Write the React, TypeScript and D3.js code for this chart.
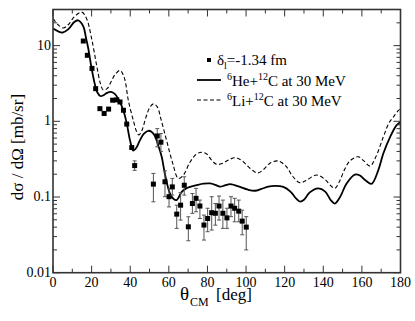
import React from 'react';
import * as d3 from 'd3';

// 6He + 12C calculation (theta in deg, dsigma/dOmega in mb/sr)
const heTheta = [0, 2.5, 5, 8, 11, 13, 15.7, 17, 18.3, 20, 21.8, 23, 24.5, 26, 28, 30, 32, 34, 36.4, 38.2, 39.9, 41.6, 43, 45, 47, 49.4, 51, 52.8, 54.5, 56.3, 58, 60.6, 62.5, 64, 66.7, 69, 71, 75, 78, 81.3, 84, 86.5, 89, 91.7, 94, 96.9, 101, 104.6, 108, 111.5, 115, 119.3, 123, 126, 128, 130, 133, 137.4, 141, 144, 146, 148.7, 152, 156.4, 159, 162, 165, 168.5, 171.1, 174.6, 178, 180];
const heXs = [16.8, 15.5, 14.9, 16.5, 20.5, 21.6, 18, 13, 9.1, 5.0, 3.0, 2.4, 2.16, 2.2, 2.38, 2.45, 2.3, 1.95, 1.4, 0.94, 0.56, 0.41, 0.44, 0.56, 0.68, 0.75, 0.73, 0.64, 0.48, 0.34, 0.2, 0.111, 0.094, 0.091, 0.117, 0.13, 0.136, 0.145, 0.15, 0.151, 0.145, 0.137, 0.142, 0.148, 0.144, 0.136, 0.125, 0.121, 0.128, 0.137, 0.14, 0.136, 0.118, 0.095, 0.087, 0.092, 0.115, 0.13, 0.118, 0.09, 0.082, 0.1, 0.15, 0.198, 0.192, 0.165, 0.149, 0.226, 0.376, 0.62, 0.89, 0.98];

// 6Li + 12C calculation
const liTheta = [0, 2.5, 5.3, 8, 11, 14.9, 17.4, 20, 22.6, 24.5, 26, 28, 30, 32, 34.7, 36, 37.3, 39, 41.6, 43.4, 44.5, 46, 48, 50, 52, 54, 56, 58.9, 62, 64.9, 67.5, 71, 74.4, 77, 79.6, 82, 84.8, 88, 91, 94.5, 98, 102, 106, 109, 112.4, 116, 118, 121, 124, 127.9, 131, 136.6, 141, 144, 146, 148.7, 151, 153.8, 158.1, 161, 164.2, 167, 171.1, 174, 176.3, 178.9, 180];
const liXs = [22.7, 19, 17.1, 19, 24, 27.7, 22.7, 12.4, 5.5, 3.2, 2.6, 2.7, 3.3, 4.1, 4.7, 4.3, 3.5, 1.9, 1.03, 0.72, 0.66, 0.75, 1.1, 1.5, 1.7, 1.55, 1.05, 0.55, 0.28, 0.176, 0.194, 0.29, 0.37, 0.39, 0.37, 0.31, 0.27, 0.28, 0.31, 0.33, 0.3, 0.24, 0.208, 0.23, 0.28, 0.3, 0.29, 0.25, 0.19, 0.154, 0.165, 0.195, 0.17, 0.14, 0.13, 0.167, 0.23, 0.3, 0.34, 0.3, 0.256, 0.33, 0.62, 0.95, 1.14, 1.39, 1.47];

// measured points
const expTheta = [15.7, 17.8, 20.2, 22.1, 24.3, 26.5, 28.8, 30.9, 33, 34.7, 36.5, 38.2, 40.8, 42.3, 52, 54, 55.9, 58, 60.1, 61.8, 64.1, 66.1, 68, 70.1, 72.2, 74.1, 76.1, 78.2, 80.1, 82.2, 84.1, 86, 88, 90.1, 92.2, 94.1, 96.2, 98, 100.1];
const expXs = [11.5, 7.45, 5.0, 2.7, 1.47, 1.27, 1.45, 1.9, 1.92, 1.8, 1.4, 0.92, 0.45, 0.26, 0.148, 0.64, 0.53, 0.159, 0.101, 0.136, 0.0594, 0.078, 0.143, 0.0404, 0.082, 0.096, 0.076, 0.0426, 0.052, 0.062, 0.061, 0.076, 0.061, 0.053, 0.076, 0.071, 0.065, 0.048, 0.04];
const expHi = [null, null, null, null, null, null, null, null, null, null, null, null, null, 0.3, 0.205, 0.8, 0.69, 0.222, 0.13, 0.176, 0.078, 0.114, 0.185, 0.0548, 0.111, 0.13, 0.091, 0.0577, 0.071, 0.101, 0.082, 0.103, 0.091, 0.071, 0.101, 0.096, 0.091, 0.067, 0.055];
const expLo = [null, null, null, null, null, null, null, null, null, null, null, null, null, 0.225, 0.0865, 0.46, 0.4, 0.101, 0.074, 0.106, 0.0385, 0.0496, 0.106, 0.0264, 0.0608, 0.0638, 0.052, 0.027, 0.0348, 0.0366, 0.0425, 0.0496, 0.0385, 0.0385, 0.055, 0.047, 0.047, 0.0317, 0.02];

const xTicks = [0, 20, 40, 60, 80, 100, 120, 140, 160, 180];
const yTicks = [0.01, 0.1, 1, 10];
const yTickLabels = ['0.01', '0.1', '1', '10'];

const W = 415;
const H = 321;
const margin = { top: 9.5, right: 14.5, bottom: 48.3, left: 53 };
// "Liberation Serif" by name comes out sans in this browser; Times New Roman maps to a serif
const serif = 'Times New Roman';

export default function App() {
  const x = d3.scaleLinear().domain([0, 180]).range([margin.left, W - margin.right]);
  const y = d3.scaleLog().domain([0.01, 30]).range([H - margin.bottom, margin.top]);
  const x0 = margin.left, x1 = W - margin.right, y0 = H - margin.bottom, y1 = margin.top;

  const line = d3.line<[number, number]>()
    .x(d => x(d[0]))
    .y(d => y(d[1]))
    .curve(d3.curveCatmullRom.alpha(0.5));

  const hePath = line(heTheta.map((t, i) => [t, heXs[i]])) || '';
  const liPath = line(liTheta.map((t, i) => [t, liXs[i]])) || '';

  const xMinor = d3.range(10, 180, 20);
  const yMinor: number[] = [];
  [0.01, 0.1, 1, 10].forEach(d => {
    for (let k = 2; k <= 9; k++) if (d * k <= 30) yMinor.push(d * k);
  });

  const axisColor = '#333';

  return (
    <svg width={W} height={H} style={{ position: 'absolute', left: 0, top: 0, background: '#fff' }}>
      <defs>
        <clipPath id="clip">
          <rect x={x0} y={y1} width={x1 - x0} height={y0 - y1} />
        </clipPath>
      </defs>
      {/* curves */}
      <g clipPath="url(#clip)">
        <path d={liPath} fill="none" stroke="#000" strokeWidth={1.1} strokeDasharray="4,2.5" />
        <path d={hePath} fill="none" stroke="#000" strokeWidth={1.8} />
      </g>

      {/* data with error bars */}
      {expTheta.map((t, i) => {
        const cx = x(t);
        const hi = expHi[i];
        const lo = expLo[i];
        return (
          <g key={'e' + i}>
            {hi != null && lo != null && (
              <g stroke="#555" strokeWidth={1}>
                <line x1={cx} x2={cx} y1={y(hi)} y2={y(lo)} />
                <line x1={cx - 2} x2={cx + 2} y1={y(hi)} y2={y(hi)} />
                <line x1={cx - 2} x2={cx + 2} y1={y(lo)} y2={y(lo)} />
              </g>
            )}
            <rect x={cx - 2.5} y={y(expXs[i]) - 2.5} width={5} height={5} fill="#000" />
          </g>
        );
      })}

      {/* frame */}
      <rect x={x0} y={y1} width={x1 - x0} height={y0 - y1} fill="none" stroke={axisColor} strokeWidth={1.6} />

      {/* ticks */}
      <g stroke={axisColor} strokeWidth={1}>
        {xTicks.map(t => (
          <g key={'xt' + t}>
            <line x1={x(t)} x2={x(t)} y1={y0} y2={y0 - 7} />
            <line x1={x(t)} x2={x(t)} y1={y1} y2={y1 + 7} />
          </g>
        ))}
        {xMinor.map(t => (
          <g key={'xm' + t}>
            <line x1={x(t)} x2={x(t)} y1={y0} y2={y0 - 4} />
            <line x1={x(t)} x2={x(t)} y1={y1} y2={y1 + 4} />
          </g>
        ))}
        {yTicks.map(t => (
          <g key={'yt' + t}>
            <line x1={x0} x2={x0 + 7} y1={y(t)} y2={y(t)} />
            <line x1={x1} x2={x1 - 7} y1={y(t)} y2={y(t)} />
          </g>
        ))}
        {yMinor.map(t => (
          <g key={'ym' + t}>
            <line x1={x0} x2={x0 + 4} y1={y(t)} y2={y(t)} />
            <line x1={x1} x2={x1 - 4} y1={y(t)} y2={y(t)} />
          </g>
        ))}
      </g>

      {/* tick labels */}
      {xTicks.map(t => (
        <text key={'xl' + t} x={x(t)} y={y0 + 14} textAnchor="middle" fontSize={14} fontFamily={serif}>{t}</text>
      ))}
      {yTicks.map((t, i) => (
        <text key={'yl' + t} x={x0 - 2} y={y(t) + 4} textAnchor="end" fontSize={14} fontFamily={serif}>{yTickLabels[i]}</text>
      ))}

      {/* axis titles */}
      <text y={300} fontFamily={serif}>
        <tspan x={180} fontSize={19}>θ</tspan>
        <tspan x={190} fontSize={12} dy={6}>CM</tspan>
        <tspan x={216} fontSize={17} dy={-6}>[deg]</tspan>
      </text>
      <text transform={`translate(23, ${(y0 + y1) / 2 + 6}) rotate(-90)`} textAnchor="middle"
        fontSize={17} fontFamily={serif}>dσ / dΩ [mb/sr]</text>

      {/* legend */}
      <rect x={207} y={58} width={4} height={4} fill="#000" />
      <text x={217} y={65} fontSize={15} fontFamily={serif}>
        δ<tspan fontSize={10} dy={4}>l</tspan><tspan dy={-4}>=-1.34 fm</tspan>
      </text>
      <line x1={197} x2={221} y1={80} y2={80} stroke="#000" strokeWidth={1.8} />
      <text x={227} y={86} fontSize={15} fontFamily={serif}>
        <tspan fontSize={10} dy={-6}>6</tspan><tspan dy={6}>He+</tspan><tspan fontSize={10} dy={-6}>12</tspan><tspan dy={6}>C at 30 MeV</tspan>
      </text>
      <line x1={197} x2={221} y1={100} y2={100} stroke="#000" strokeWidth={1.1} strokeDasharray="4,2.5" />
      <text x={227} y={106} fontSize={15} fontFamily={serif}>
        <tspan fontSize={10} dy={-6}>6</tspan><tspan dy={6}>Li+</tspan><tspan fontSize={10} dy={-6}>12</tspan><tspan dy={6}>C at 30 MeV</tspan>
      </text>
    </svg>
  );
}
